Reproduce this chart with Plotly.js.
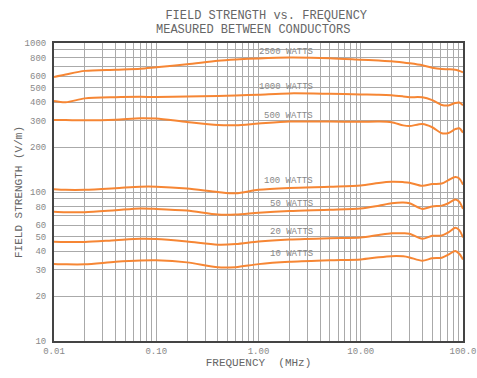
<!DOCTYPE html>
<html>
<head>
<meta charset="utf-8">
<script src="https://cdn.plot.ly/plotly-3.0.1.min.js"></script>
<style>html,body{margin:0;padding:0;background:#fff;}#chart{width:477px;height:378px;}</style>
</head>
<body>
<div id="chart"></div>
<script>
// Frequency (MHz)
const freq = [0.01, 0.013, 0.02, 0.04, 0.07, 0.1, 0.2, 0.4, 0.6, 1, 2, 5, 10, 15, 20, 26, 30, 40, 50, 62, 72, 84, 92, 100];

// Field strength (V/m) per power level
const w2500 = [592, 615, 650, 662, 672, 688, 720, 760, 775, 788, 798, 790, 772, 762, 754, 740, 731, 709, 682, 668, 666, 662, 650, 636];
const w1000 = [408, 400, 425, 433, 435, 434, 438, 441, 445, 450, 459, 456, 452, 450, 446, 438, 433, 432, 414, 384, 381, 396, 399, 382];
const w500  = [304, 304, 303, 306, 313, 311, 295, 282, 281, 288, 297, 297, 296, 297, 294, 280, 277, 286, 272, 248, 249, 264, 268, 250];
const w100  = [104.5, 103.5, 103.5, 106, 108.5, 108.5, 105.5, 100, 98, 103.5, 106.5, 108.5, 110.5, 115, 117, 116.5, 115.5, 110, 113, 114, 120, 126, 123, 112];
const w50   = [73.8, 73.2, 73.2, 75.5, 77.5, 77, 75, 70.5, 70.5, 72.5, 74.5, 76, 77.5, 81, 84, 85, 84, 77, 80, 81, 84, 89, 86, 77];
const w20   = [46.4, 46.2, 46.2, 47.5, 48.5, 48.3, 46.5, 44.3, 44.7, 46.5, 48, 49, 49.5, 51.5, 52.8, 52.8, 52.5, 48.5, 50.8, 51, 53.5, 57.5, 55.5, 49.5];
const w10   = [32.9, 32.7, 32.7, 34, 34.7, 34.8, 33.7, 31.2, 31.3, 32.8, 34, 34.8, 35.3, 36.5, 37.1, 37, 36.4, 34.6, 35.9, 36.2, 38, 40.2, 38.5, 35.3];

const seriesNames = ["2500 WATTS", "1000 WATTS", "500 WATTS", "100 WATTS", "50 WATTS", "20 WATTS", "10 WATTS"];
const seriesValues = [w2500, w1000, w500, w100, w50, w20, w10];

// Axis ticks
const xTickVals = [0.01,0.02,0.03,0.04,0.05,0.06,0.07,0.08,0.09,
                   0.1,0.2,0.3,0.4,0.5,0.6,0.7,0.8,0.9,
                   1,2,3,4,5,6,7,8,9,
                   10,20,30,40,50,60,70,80,90,100];
const xTickText = ["0.01","","","","","","","","",
                   "0.10","","","","","","","","",
                   "1.00","","","","","","","","",
                   "10.00","","","","","","","","","100.0"];
const yTickVals = [10,20,30,40,50,60,70,80,90,100,200,300,400,500,600,700,800,900,1000];
const yTickText = ["10","20","30","40","50","60","","80","","100","200","300","400","500","600","","800","","1000"];

const mono = '"Courier New", Courier, "Nimbus Mono PS", "Nimbus Mono L", FreeMono, "Liberation Mono", monospace';
const lineColor = 'rgb(246,134,52)';

const traces = seriesValues.map((vals, i) => ({
  x: freq, y: vals, name: seriesNames[i], type: 'scatter', mode: 'lines',
  line: {color: lineColor, width: 2, shape: 'spline', smoothing: 0.8},
  hoverinfo: 'skip'
}));

// label positions (paper coords)
const labelY = [0.971, 0.8534, 0.756, 0.5369, 0.4597, 0.3668, 0.2919];
const annotations = seriesNames.map((t, i) => ({
  text: t, xref: 'paper', yref: 'paper', x: 0.638, y: labelY[i],
  xanchor: 'right', yanchor: 'middle', showarrow: false,
  font: {family: mono, size: 9, color: '#888'}
}));
annotations.push({
  text: '\u00a0\u00a0FIELD STRENGTH vs. FREQUENCY', xref: 'paper', yref: 'paper',
  x: 0.501, y: 1.09, xanchor: 'center', yanchor: 'middle', showarrow: false,
  font: {family: mono, size: 12, color: '#666'}
});
annotations.push({
  text: 'MEASURED BETWEEN CONDUCTORS', xref: 'paper', yref: 'paper',
  x: 0.4866, y: 1.0436, xanchor: 'center', yanchor: 'middle', showarrow: false,
  font: {family: mono, size: 12, color: '#666'}
});

const layout = {
  width: 477, height: 378,
  margin: {l: 54, r: 14, t: 43, b: 37, pad: 0},
  paper_bgcolor: '#fff', plot_bgcolor: '#fff',
  showlegend: false,
  xaxis: {
    type: 'log', range: [-2, 2], tickmode: 'array', tickvals: xTickVals, ticktext: xTickText,
    showgrid: true, gridcolor: '#aaa', gridwidth: 1,
    showline: true, mirror: true, linecolor: '#444', linewidth: 2,
    ticks: '', zeroline: false,
    tickfont: {family: mono, size: 9, color: '#888'},
    title: {text: 'FREQUENCY\u00a0\u00a0(MHz)', font: {family: mono, size: 11, color: '#666'}, standoff: 0}
  },
  yaxis: {
    type: 'log', range: [1, 3], tickmode: 'array', tickvals: yTickVals, ticktext: yTickText,
    showgrid: true, gridcolor: '#aaa', gridwidth: 1,
    showline: true, mirror: true, linecolor: '#444', linewidth: 2,
    ticks: '', zeroline: false, ticklabelstandoff: 4,
    tickfont: {family: mono, size: 9, color: '#888'},
    title: {text: 'FIELD STRENGTH (V/m)', font: {family: mono, size: 11, color: '#666'}, standoff: 0}
  },
  annotations: annotations
};

Plotly.newPlot('chart', traces, layout, {displayModeBar: false, staticPlot: true});
</script>
</body>
</html>
